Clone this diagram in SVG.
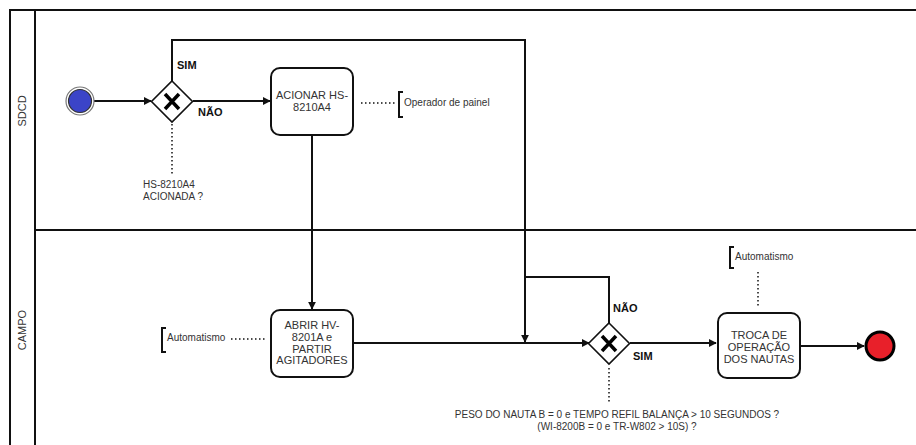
<svg xmlns="http://www.w3.org/2000/svg" width="916" height="445" viewBox="0 0 916 445">
<defs>
<style>
.ln{fill:none;stroke:#111;stroke-width:2}
.dot{fill:none;stroke:#111;stroke-width:1.5;stroke-dasharray:1.5 2.5}
.task{fill:#fff;stroke:#111;stroke-width:2}
.t{font-family:"Liberation Sans",Arial,sans-serif;font-size:11px;fill:#333;text-anchor:middle}
.ts{font-family:"Liberation Sans",Arial,sans-serif;font-size:10px;fill:#333}
.b{font-family:"Liberation Sans",Arial,sans-serif;font-size:11px;font-weight:bold;fill:#111}
.gw{fill:#fff;stroke:#111;stroke-width:1.6}
.x{fill:none;stroke:#000;stroke-width:3.5}
</style>
<marker id="arr" viewBox="0 0 10 10" refX="9" refY="5" markerWidth="8" markerHeight="8" markerUnits="userSpaceOnUse" orient="auto">
<path d="M0,0 L10,5 L0,10 z" fill="#111"/>
</marker>
</defs>
<rect width="916" height="445" fill="#fff"/>
<g id="pool">
<path class="ln" d="M10,445 V10 H916 M35,10 V445 M35,230 H916"/>
<text class="t" transform="translate(26,111) rotate(-90)">SDCD</text>
<text class="t" transform="translate(26,330) rotate(-90)">CAMPO</text>
</g>
<g id="connectors">
<path class="ln" d="M94,101 H151" marker-end="url(#arr)"/>
<path class="ln" d="M193,101 H270" marker-end="url(#arr)"/>
<path class="ln" d="M172,81 V40 H525 V342" marker-end="url(#arr)"/>
<path class="ln" d="M312,135 V309" marker-end="url(#arr)"/>
<path class="ln" d="M353,343 H589" marker-end="url(#arr)"/>
<path class="ln" d="M609,323 V277 H525"/>
<path class="ln" d="M630,343 H716" marker-end="url(#arr)"/>
<path class="ln" d="M800,346 H864" marker-end="url(#arr)"/>
<path class="dot" d="M172,124 V174"/>
<path class="dot" d="M361,103 H395"/>
<path class="dot" d="M231,339 H265"/>
<path class="dot" d="M758,272 V307"/>
<path class="dot" d="M609,368 V404"/>
<text class="b" x="177" y="69">SIM</text>
<text class="b" x="198" y="116">NÃO</text>
<text class="b" x="613" y="312">NÃO</text>
<text class="b" x="633" y="360">SIM</text>
</g>
<g id="start">
<circle cx="80" cy="101" r="14" fill="#fff" stroke="#777" stroke-width="1.2"/>
<circle cx="80" cy="101" r="11.5" fill="#3b44c8" stroke="#333" stroke-width="1.2"/>
</g>
<g id="gateway1">
<path class="gw" d="M172,81 L192.5,101.5 L172,122 L151.5,101.5 z"/>
<path class="x" d="M165,94 L179,109 M179,94 L165,109"/>
<text class="ts" x="143" y="188">HS-8210A4</text>
<text class="ts" x="143" y="200">ACIONADA ?</text>
</g>
<g id="task1">
<rect class="task" x="271" y="68" width="82" height="67" rx="9"/>
<text class="t" x="312" y="99">ACIONAR HS-</text>
<text class="t" x="312" y="111">8210A4</text>
</g>
<g id="note1">
<path class="ln" d="M403,92 H399 V117 H403" stroke-width="1.6"/>
<text class="ts" x="404" y="106">Operador de painel</text>
</g>
<g id="task2">
<rect class="task" x="271" y="310" width="82" height="67" rx="9"/>
<text class="t" x="312" y="329">ABRIR HV-</text>
<text class="t" x="312" y="341">8201A e</text>
<text class="t" x="312" y="353">PARTIR</text>
<text class="t" x="312" y="364">AGITADORES</text>
</g>
<g id="note2">
<path class="ln" d="M166,328 H162 V352 H166" stroke-width="1.6"/>
<text class="ts" x="167" y="341">Automatismo</text>
</g>
<g id="gateway2">
<path class="gw" d="M609,323 L629.5,343.5 L609,364 L588.5,343.5 z"/>
<path class="x" d="M602,336 L616,351 M616,336 L602,351"/>
<text class="ts" x="617" y="418" text-anchor="middle">PESO DO NAUTA B = 0 e TEMPO REFIL BALANÇA &gt; 10 SEGUNDOS ?</text>
<text class="ts" x="617" y="430" text-anchor="middle">(WI-8200B = 0 e TR-W802 &gt; 10S) ?</text>
</g>
<g id="task3">
<rect class="task" x="718" y="313" width="82" height="65" rx="9"/>
<text class="t" x="759" y="339">TROCA DE</text>
<text class="t" x="759" y="351">OPERAÇÃO</text>
<text class="t" x="759" y="363">DOS NAUTAS</text>
</g>
<g id="note3">
<path class="ln" d="M734,247 H730 V268 H734" stroke-width="1.6"/>
<text class="ts" x="735" y="260">Automatismo</text>
</g>
<g id="end">
<circle cx="880" cy="346" r="14" fill="#e8202a" stroke="#000" stroke-width="3"/>
</g>
</svg>
